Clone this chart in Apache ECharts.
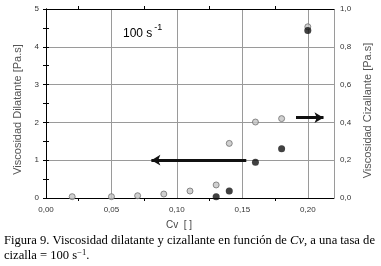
<!DOCTYPE html>
<html><head><meta charset="utf-8">
<script src="https://cdn.jsdelivr.net/npm/echarts@6/dist/echarts.min.js"></script>
<style>html,body{margin:0;padding:0;background:#fff}#c{width:381px;height:266px}</style>
</head><body><div id="c"></div>
<script>
// Data
const xCizallante = [0.02, 0.05, 0.07, 0.09, 0.11, 0.13, 0.14, 0.16, 0.18, 0.20];
const cizallante  = [0.007, 0.007, 0.012, 0.021, 0.037, 0.069, 0.289, 0.402, 0.42, 0.906];
const xDilatante  = [0.13, 0.14, 0.16, 0.18, 0.20];
const dilatante   = [0.034, 0.185, 0.944, 1.30, 4.43];
const xTicks = ['0,00', '0,05', '0,10', '0,15', '0,20'];
const arrowLeft  = [[0.153, 1.0], [0.0805, 1.0]];   // points to left axis (dilatante)
const arrowRight = [[0.191, 0.425], [0.212, 0.425]]; // points to right axis (cizallante)

const chart = echarts.init(document.getElementById('c'), null, {renderer: 'canvas'});
const sans = 'Liberation Sans';
const fmtX = v => {
  const k = Math.round(v / 0.05);
  return Math.abs(k * 0.05 - v) < 1e-9 && k < xTicks.length ? xTicks[k] : '';
};
const option = {
  animation: false,
  backgroundColor: '#fff',
  grid: {left: 46, right: 43, top: 9, bottom: 68},
  xAxis: [{
    type: 'value', min: 0, max: 0.22, interval: 0.05,
    name: 'Cv  [ ]', nameLocation: 'middle', nameGap: 22,
    nameTextStyle: {fontFamily: sans, fontSize: 10, color: '#444', padding: [0, 22, 0, 0]},
    axisLine: {show: true, lineStyle: {color: '#000', width: 1}},
    axisTick: {show: false},
    minorTick: {show: true, splitNumber: 2, length: 3, lineStyle: {color: '#000'}},
    axisLabel: {formatter: fmtX, fontFamily: sans, fontSize: 8, color: '#333', margin: 8},
    splitLine: {show: true, lineStyle: {color: '#9a9a9a', width: 1}}
  }, {
    type: 'value', min: 0, max: 0.22, interval: 0.05, position: 'top',
    axisLine: {show: true, onZero: false, lineStyle: {color: '#000', width: 1}},
    axisTick: {show: false},
    minorTick: {show: true, splitNumber: 2, length: 3, lineStyle: {color: '#000'}},
    axisLabel: {show: false}, splitLine: {show: false}
  }],
  yAxis: [{
    type: 'value', min: 0, max: 5, interval: 1,
    name: 'Viscosidad Dilatante [Pa.s]', nameLocation: 'middle', nameGap: 23,
    nameTextStyle: {fontFamily: sans, fontSize: 11, color: '#555', padding: [0, 12, 0, 0]},
    axisLine: {show: true, lineStyle: {color: '#000'}},
    axisTick: {show: true, length: 3, lineStyle: {color: '#000'}},
    minorTick: {show: true, splitNumber: 2, length: 3, lineStyle: {color: '#000'}},
    axisLabel: {fontFamily: sans, fontSize: 8, color: '#333', margin: 7},
    splitLine: {show: true, lineStyle: {color: '#9a9a9a', width: 1}}
  }, {
    type: 'value', min: 0, max: 1, interval: 0.2, position: 'right',
    name: 'Viscosidad Cizallante [Pa.s]', nameLocation: 'middle', nameGap: 22,
    nameRotate: 90,
    nameTextStyle: {fontFamily: sans, fontSize: 11, color: '#555', padding: [0, 14, 0, 0]},
    axisLine: {show: true, lineStyle: {color: '#000'}},
    axisTick: {show: true, length: 3, lineStyle: {color: '#000'}},
    minorTick: {show: true, splitNumber: 2, length: 3, lineStyle: {color: '#000'}},
    axisLabel: {fontFamily: sans, fontSize: 8, color: '#333', margin: 6,
      formatter: v => v.toFixed(1).replace('.', ',')},
    splitLine: {show: false}
  }],
  series: [{
    type: 'scatter', yAxisIndex: 1, symbol: 'circle', symbolSize: 6,
    itemStyle: {color: '#c4c4c4', borderColor: '#707070', borderWidth: 1},
    data: xCizallante.map((x, i) => [x, cizallante[i]]),
    markLine: {silent: true, symbol: ['none', 'arrow'], symbolSize: [8, 9],
      label: {show: false}, lineStyle: {color: '#111', width: 3, type: 'solid'},
      data: [[{coord: arrowRight[0]}, {coord: arrowRight[1]}]]}
  }, {
    type: 'scatter', yAxisIndex: 0, symbol: 'circle', symbolSize: 7,
    itemStyle: {color: '#111'},
    data: xDilatante.map((x, i) => [x, dilatante[i]]),
    markLine: {silent: true, symbol: ['none', 'arrow'], symbolSize: [8, 9],
      label: {show: false}, lineStyle: {color: '#111', width: 3, type: 'solid'},
      data: [[{coord: arrowLeft[0]}, {coord: arrowLeft[1]}]]}
  }],
  graphic: [{
    type: 'text', left: 123, top: 23,
    style: {
      text: '{a|100 s}{s|-1}',
      rich: {
        a: {fontFamily: sans, fontSize: 12, color: '#333', verticalAlign: 'bottom', height: 15},
        s: {fontFamily: sans, fontSize: 9, color: '#333', verticalAlign: 'top', height: 15, padding: [0, 0, 6, 2]}
      }
    }
  }, {
    type: 'text', left: 4, top: 234,
    style: {
      text: '{n|Figura 9. Viscosidad dilatante y cizallante en función de }{i|Cv}{n|, a una tasa de}\n{n|cizalla = 100 s}{u|−1}{n|.}',
      rich: {
        n: {fontFamily: 'Liberation Serif', fontSize: 12.6, color: '#000', lineHeight: 15},
        i: {fontFamily: 'Liberation Serif', fontSize: 12.6, fontStyle: 'italic', color: '#000', lineHeight: 15},
        u: {fontFamily: 'Liberation Serif', fontSize: 8.5, color: '#000', lineHeight: 15, verticalAlign: 'top'}
      }
    }
  }]
};
chart.setOption(option);
</script>
</body></html>
